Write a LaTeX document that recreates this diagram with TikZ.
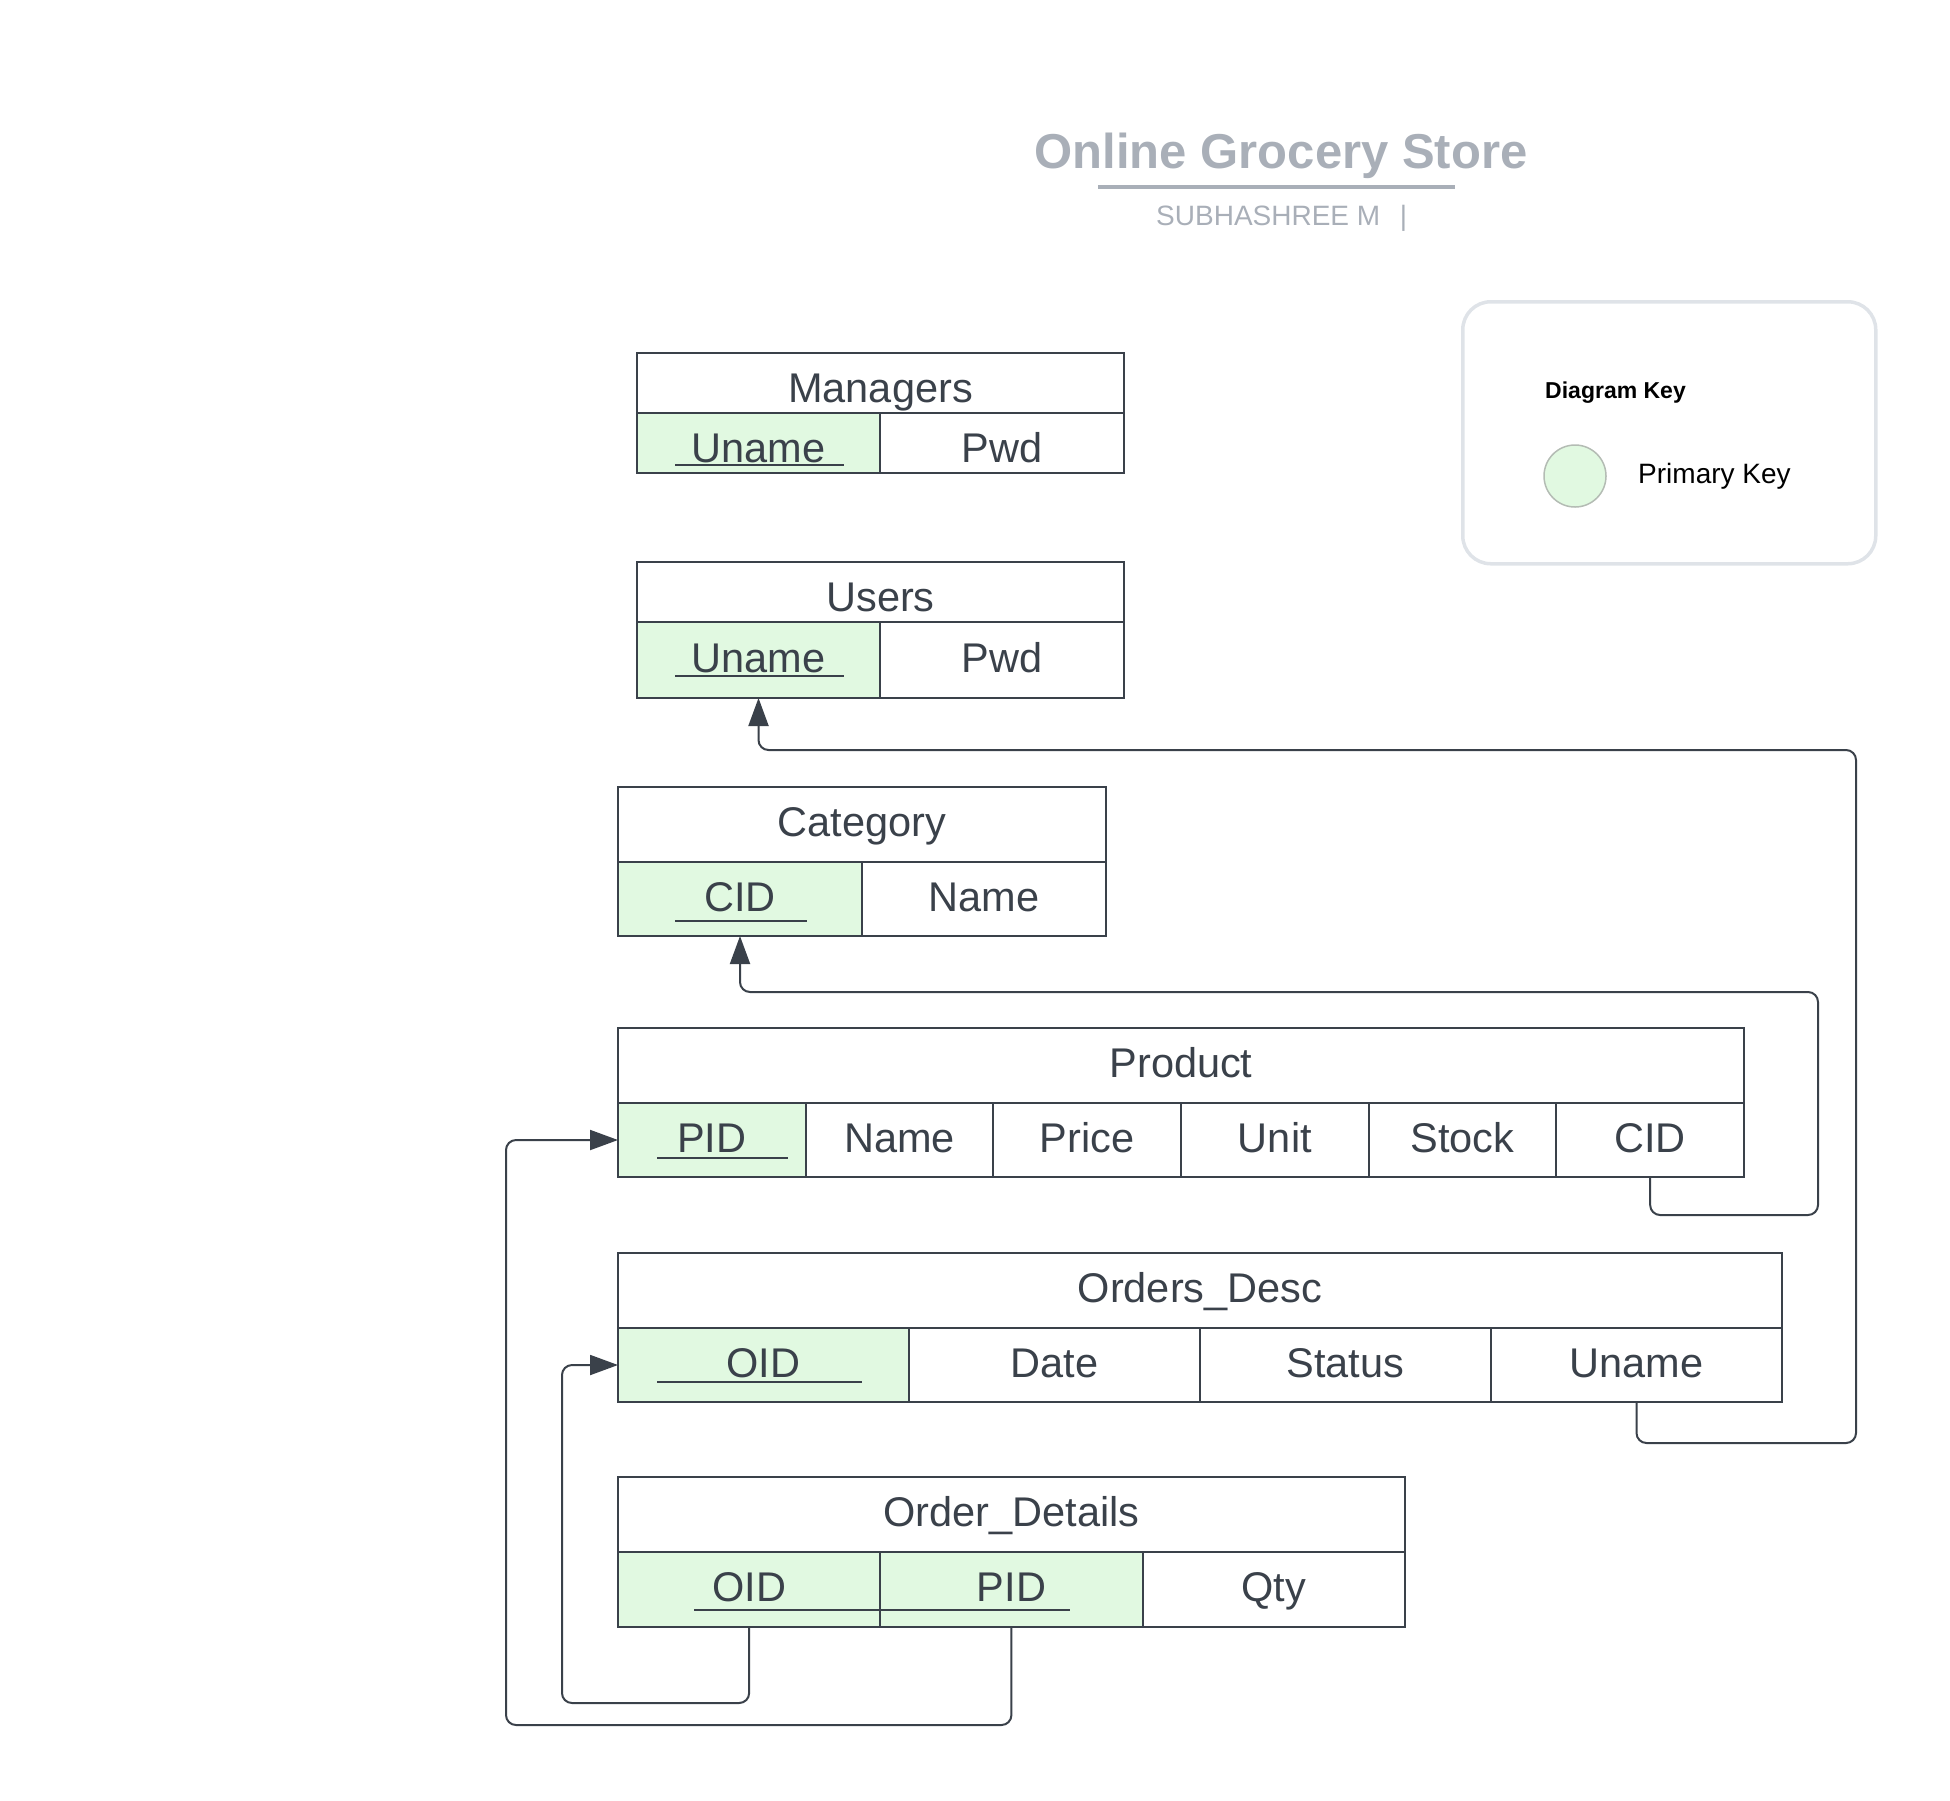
\documentclass[tikz,border=0pt]{standalone}
\usepackage{fontspec}
\setmainfont{Liberation Sans}
\usetikzlibrary{arrows.meta}

\definecolor{ink}{HTML}{3A414A}
\definecolor{pkgreen}{HTML}{E1F9E1}
\definecolor{titlegray}{HTML}{A9AFB8}
\definecolor{keyline}{HTML}{DFE3E8}
\definecolor{dotline}{HTML}{B4BCB4}

\tikzset{
	cell/.style={rectangle, draw=ink, line width=2pt, anchor=north west, inner sep=0pt, outer sep=0pt,
		text=ink, font=\fontsize{41.5}{50}\selectfont, text height=24pt, text depth=0pt},
	pk/.style={fill=pkgreen},
	high/.style={text height=38pt},
	pkline/.style={draw=ink, line width=2pt},
	fk/.style={draw=ink, line width=2pt, rounded corners=10pt, -{Triangle[length=28pt,width=20pt]}},
	keybox/.style={rectangle, draw=keyline, line width=3.5pt, rounded corners=28pt, anchor=north west},
}

\begin{document}
\begin{tikzpicture}[x=1pt,y=-1pt]
		
		\useasboundingbox (0,0) rectangle (1950,1800);
		
		%%% title
		\node[font=\bfseries\fontsize{49}{58}\selectfont, text=titlegray, anchor=base, inner sep=0pt] (title) at (1281,168) {Online Grocery Store};
		\draw[titlegray, line width=3.5pt] (1098,187) -- (1455,187);
		\node[font=\fontsize{28}{34}\selectfont, text=titlegray, anchor=base west, inner sep=0pt] (author) at (1156,225) {SUBHASHREE M\hspace{0.7em}|};
		
		%%% key
		\node[keybox, minimum width=413pt, minimum height=262pt] (key) at (1461,300) {};
		\node[font=\bfseries\fontsize{23}{28}\selectfont, anchor=base west, inner sep=0pt] (keytitle) at (1545,398) {Diagram Key};
		\node[circle, fill=pkgreen, draw=dotline, line width=1.5pt, minimum size=62pt, inner sep=0pt] (keydot) at (1575,476) {};
		\node[font=\fontsize{28}{34}\selectfont, anchor=base west, inner sep=0pt] (keytext) at (1638,483) {Primary Key};
		
		%%% Managers
		\node[cell, high, minimum width=487pt, minimum height=60pt] (m0) at (637,353) {Managers};
		\node[cell, high, pk, minimum width=243pt, minimum height=60pt] (m1) at (637,413) {Uname};
		\node[cell, high, minimum width=244pt, minimum height=60pt] (m2) at (880,413) {Pwd};
		
		%%% Users
		\node[cell, high, minimum width=487pt, minimum height=60pt] (u0) at (637,562) {Users};
		\node[cell, pk, minimum width=243pt, minimum height=76pt] (u1) at (637,622) {Uname};
		\node[cell, minimum width=244pt, minimum height=76pt] (u2) at (880,622) {Pwd};
		
		%%% Category
		\node[cell, minimum width=488pt, minimum height=75pt] (c0) at (618,787) {Category};
		\node[cell, pk, minimum width=244pt, minimum height=74pt] (c1) at (618,862) {CID};
		\node[cell, minimum width=244pt, minimum height=74pt] (c2) at (862,862) {Name};
		
		%%% Product
		\node[cell, minimum width=1126pt, minimum height=75pt] (p0) at (618,1028) {Product};
		\node[cell, pk, minimum width=187.7pt, minimum height=74pt] (p1) at (618,1103) {PID};
		\node[cell, minimum width=187.7pt, minimum height=74pt] (p2) at (805.7,1103) {Name};
		\node[cell, minimum width=187.7pt, minimum height=74pt] (p3) at (993.3,1103) {Price};
		\node[cell, minimum width=187.7pt, minimum height=74pt] (p4) at (1181,1103) {Unit};
		\node[cell, minimum width=187.7pt, minimum height=74pt] (p5) at (1368.7,1103) {Stock};
		\node[cell, minimum width=187.7pt, minimum height=74pt] (p6) at (1556.3,1103) {CID};
		
		%%% Orders_Desc
		\node[cell, minimum width=1164pt, minimum height=75pt] (o0) at (618,1253) {Orders\_Desc};
		\node[cell, pk, minimum width=291pt, minimum height=74pt] (o1) at (618,1328) {OID};
		\node[cell, minimum width=291pt, minimum height=74pt] (o2) at (909,1328) {Date};
		\node[cell, minimum width=291pt, minimum height=74pt] (o3) at (1200,1328) {Status};
		\node[cell, minimum width=291pt, minimum height=74pt] (o4) at (1491,1328) {Uname};
		
		%%% Order_Details
		\node[cell, minimum width=787pt, minimum height=75pt] (d0) at (618,1477) {Order\_Details};
		\node[cell, pk, minimum width=262.3pt, minimum height=75pt] (d1) at (618,1552) {OID};
		\node[cell, pk, minimum width=262.3pt, minimum height=75pt] (d2) at (880.3,1552) {PID};
		\node[cell, minimum width=262.4pt, minimum height=75pt] (d3) at (1142.6,1552) {Qty};
		
		%%% key underlines
		\draw[pkline] (675,465) -- (844,465);
		\draw[pkline] (675,676) -- (844,676);
		\draw[pkline] (675,921) -- (807,921);
		\draw[pkline] (657,1158) -- (788,1158);
		\draw[pkline] (657,1382) -- (862,1382);
		\draw[pkline] (694,1610) -- (1070,1610);
		
		%%% CID -> Category
		\coordinate (cturn) at (1818,992);
		\draw[fk] (p6.south) -- ++(0,38) -| (cturn) -| (c1.south);
		
		%%% Uname -> Users
		\coordinate (uturn) at (1856,750);
		\draw[fk] (o4.south) -- ++(0,41) -| (uturn) -| (u1.south);
		
		%%% OID -> Orders_Desc
		\coordinate (oturn) at (562,1703);
		\draw[fk] (d1.south) |- (oturn) |- (o1.west);
		
		%%% PID -> Product
		\coordinate (pturn) at (506,1725);
		\draw[fk] (d2.south) |- (pturn) |- (p1.west);
		
	\end{tikzpicture}
\end{document}
